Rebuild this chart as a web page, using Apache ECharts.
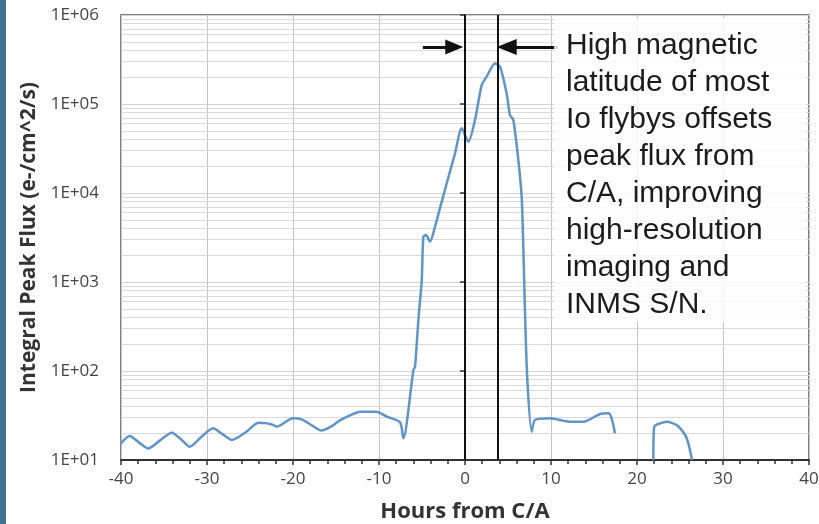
<!DOCTYPE html>
<html>
<head>
<meta charset="utf-8">
<script src="https://cdn.jsdelivr.net/npm/echarts@6/dist/echarts.min.js"></script>
<style>html,body{margin:0;padding:0;background:#fff;}#chart{width:819px;height:524px;}</style>
</head>
<body>
<div id="chart"></div>
<script>
// ---- data ----
var hoursA = [-40, -39, -38, -36.8, -35.5, -34.1, -33, -32, -30.7, -29.3, -28.2, -27.1, -25.5, -24, -23, -22.3, -21.9, -20, -19, -17.8, -16.7, -15.5, -14.5, -13.3, -12.2, -10.3, -9.1, -7.56, -7.17, -6.0, -5.81, -5.42, -5.03, -4.84, -4.53, -4.07, -3.49, -2.9, -2.13, -1.16, -0.38, 0.38, 1.16, 1.94, 2.52, 3.49, 4.07, 4.84, 5.23, 5.62, 6.2, 6.59, 6.78, 6.98, 7.25, 7.75, 8.14, 9.88, 12.2, 13.76, 15.7, 16.67, 17.05, 17.44];
var fluxA = [15.4, 18.6, 16, 13.5, 16.5, 20.3, 17, 14.1, 18, 22.7, 19.5, 16.8, 20.5, 26.2, 25.8, 24.7, 23.7, 29.4, 28.6, 24.5, 21.4, 24, 28.1, 32, 34.9, 34.9, 30.7, 26.5, 17.5, 102, 112, 374, 1050, 3230, 3370, 2840, 4180, 6800, 12800, 27900, 53300, 37700, 66100, 163000, 203000, 286000, 262000, 132000, 75200, 66100, 23500, 9000, 2490, 445, 79, 20.8, 28.1, 29.4, 26.9, 26.9, 32.9, 33.5, 29.4, 20.0];
var hoursB = [21.9, 22.0, 22.7, 23.45, 24.6, 25.6, 26.0, 26.4];
var fluxB = [10, 23.7, 25.8, 26.9, 24.7, 19.1, 15, 10];
var caLines = [0, 3.8];                  // C/A and offset peak
var arrowY = 436000;                     // arrow height (flux units)
var leftArrow = [-4.9, -1.25];           // from, to (hours)
var rightArrow = [10.8, 4.85];
var xTickLabels = ['-40', '-30', '-20', '-10', '0', '10', '20', '30', '40'];
var yTickLabels = ['1E+01', '1E+02', '1E+03', '1E+04', '1E+05', '1E+06'];
var noteLines = ['High magnetic', 'latitude of most', 'Io flybys offsets', 'peak flux from', 'C/A, improving', 'high-resolution', 'imaging and', 'INMS S/N.'];

// ---- build ----
var lineData = [];
for (var i = 0; i < hoursA.length; i++) lineData.push([hoursA[i], fluxA[i]]);
lineData.push([20, null]);
for (var j = 0; j < hoursB.length; j++) lineData.push([hoursB[j], fluxB[j]]);

var minorVals = [];
for (var k = 1; k <= 5; k++) for (var m = 2; m <= 9; m++) minorVals.push({ yAxis: m * Math.pow(10, k) });

var chart = echarts.init(document.getElementById('chart'), null, { renderer: 'canvas' });
var tickFont = 'Open Sans';
var titleFont = 'Open Sans';
chart.setOption({
  animation: false,
  grid: { left: 121, right: 10, top: 15, bottom: 64, show: true, borderColor: '#555', borderWidth: 1.5,
    backgroundColor: 'transparent', containLabel: false, outerBoundsMode: 'none' },
  xAxis: {
    type: 'value', min: -40, max: 40, interval: 10,
    name: 'Hours from C/A', nameLocation: 'middle', nameGap: 41,
    nameTextStyle: { fontFamily: titleFont, fontWeight: 'bold', fontSize: 22, color: '#333' },
    axisLine: { show: true, onZero: false, lineStyle: { color: '#333', width: 2 } },
    axisTick: { show: true, length: 5, lineStyle: { color: '#333', width: 1.5 } },
    minorTick: { show: true, splitNumber: 5, length: 4, lineStyle: { color: '#333', width: 1.5 } },
    splitLine: { show: true, lineStyle: { color: '#c4c4c4', width: 1 } },
    axisLabel: { fontFamily: tickFont, fontSize: 17, color: '#444', margin: 11,
      formatter: function (v) { return xTickLabels[Math.round((v + 40) / 10)]; } }
  },
  yAxis: {
    type: 'log', logBase: 10, min: 10, max: 1000000,
    name: 'Integral Peak Flux (e-/cm^2/s)', nameLocation: 'middle', nameGap: 80,
    nameTextStyle: { fontFamily: titleFont, fontWeight: 'bold', fontSize: 21, color: '#333' },
    axisLine: { show: true, lineStyle: { color: '#333', width: 2 } },
    axisTick: { show: true, length: 5, lineStyle: { color: '#333', width: 1.5 } },
    splitLine: { show: true, lineStyle: { color: '#d4d4d4', width: 1 } },
    axisLabel: { fontFamily: tickFont, fontSize: 17, color: '#444', margin: 22,
      formatter: function (v) { return yTickLabels[Math.round(Math.log10(v)) - 1]; } }
  },
  graphic: [
    { type: 'rect', left: 0, top: 0, shape: { width: 6, height: 524 }, style: { fill: '#3f7391' } },
    { type: 'rect', left: 554, top: 18, z: 5, shape: { width: 252, height: 304 }, style: { fill: 'rgba(255,255,255,0.82)' } },
    { type: 'text', left: 566, top: 27, z: 6,
      style: { text: noteLines.join('\n'), font: '30px "Liberation Sans", Arial, sans-serif', lineHeight: 37, fill: '#1c1c1c' } }
  ],
  series: [
    { type: 'line', data: [], silent: true, z: 1,
      markLine: { silent: true, z: 1, symbol: ['none', 'none'], label: { show: false }, animation: false,
        lineStyle: { color: '#dadada', width: 1, type: 'solid' }, data: minorVals } },
    { type: 'line', data: lineData, showSymbol: false, connectNulls: false, smooth: 0.25, z: 3,
      lineStyle: { color: '#5f95c9', width: 2.5 } },
    { type: 'line', data: [], silent: true, z: 4,
      markLine: { silent: true, z: 4, animation: false, symbol: ['none', 'none'], label: { show: false },
        data: [
          { xAxis: caLines[0] },
          { xAxis: caLines[1] },
          [ { coord: [leftArrow[0], arrowY], symbol: 'none' },
            { coord: [leftArrow[1], arrowY], symbol: 'triangle', symbolSize: [15, 18], lineStyle: { width: 3 } } ],
          [ { coord: [rightArrow[0], arrowY], symbol: 'none' },
            { coord: [rightArrow[1], arrowY], symbol: 'triangle', symbolSize: [16, 20], lineStyle: { width: 3 } } ]
        ],
        lineStyle: { color: '#111', width: 2, type: 'solid' }
      } }
  ]
});
</script>
</body>
</html>
